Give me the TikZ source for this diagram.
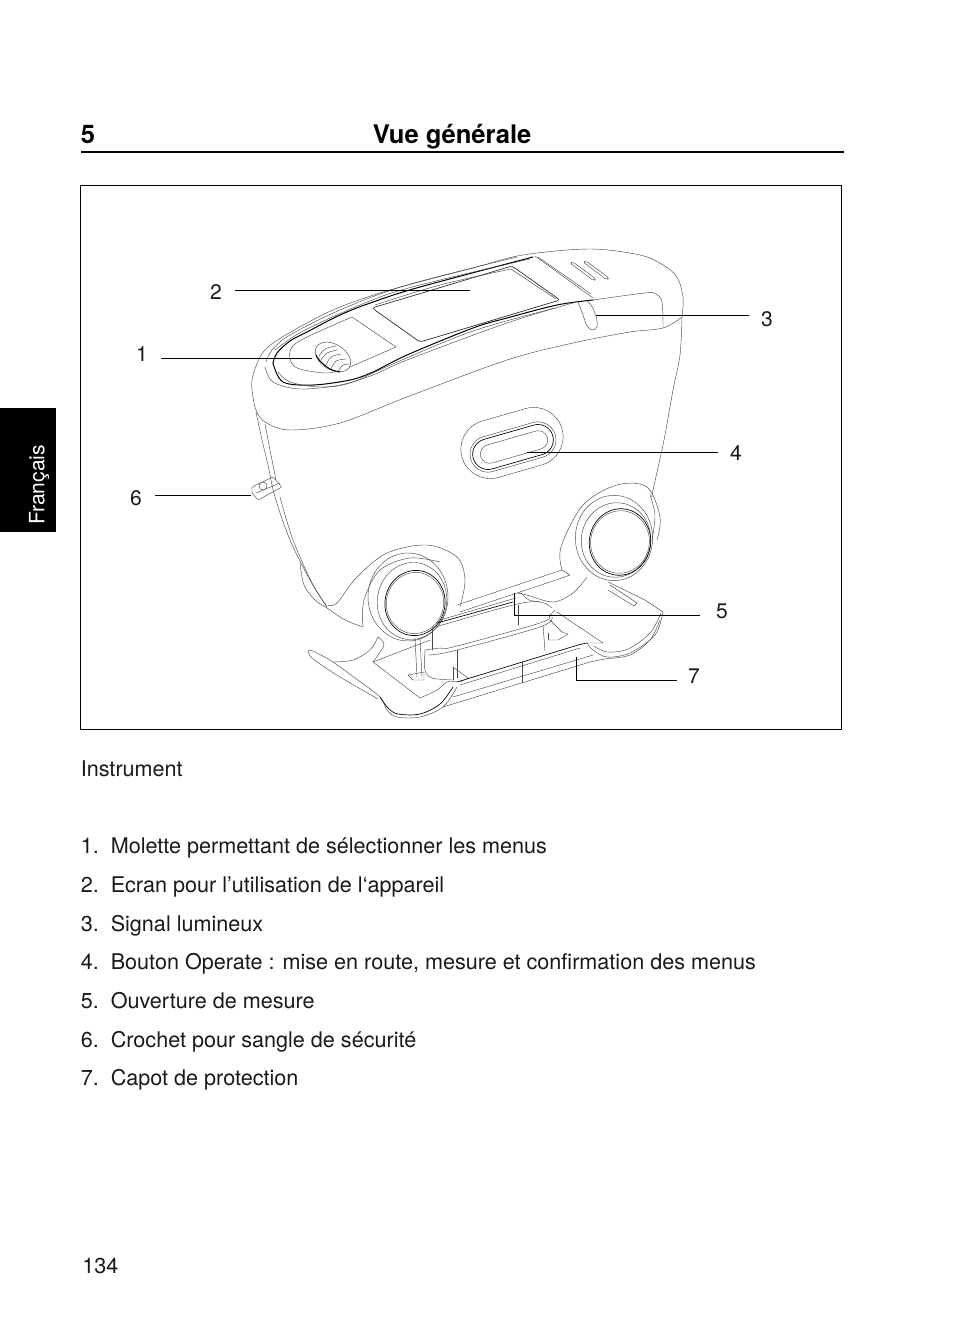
\documentclass[tikz,border=0pt]{standalone}
\usepackage{fontspec}
\setmainfont{TeX Gyre Heros}
\usetikzlibrary{shapes.misc,shapes.geometric}
\tikzset{
 ln/.style={line width=.33pt,draw=black!72,line cap=round,line join=round},
 hv/.style={line width=.75pt,draw=black,line cap=round,line join=round},
 lead/.style={line width=.7pt,draw=black},
 body/.style={font=\fontsize{16.2pt}{18pt}\selectfont,anchor=base west,inner sep=0pt,text=black!90},
 call/.style={font=\fontsize{15.8pt}{18pt}\selectfont,inner sep=0pt,text=black!90},
 pill/.style={rounded rectangle,draw,inner sep=0pt,rotate=16},
}
\newcommand\cv[2][ln]{\draw[#1] plot[smooth,tension=.55] coordinates {#2};}
\begin{document}
\begin{tikzpicture}[x=.75pt,y=-.75pt]
\useasboundingbox (0,0) rectangle (954,1337);
% page furniture
\fill[black] (0,408) rectangle (56,532);
\node[inner sep=0pt,rotate=90,text=white,font=\fontsize{15.8pt}{16pt}\selectfont] (tab) at (39,485) {Français};
\node[anchor=base west,inner sep=0pt,font=\bfseries\fontsize{19.2pt}{22pt}\selectfont] (hnum) at (80.5,144) {5};
\node[anchor=base west,inner sep=0pt,font=\bfseries\fontsize{19.2pt}{22pt}\selectfont] (htitle) at (372.5,144) {Vue générale};
\draw[line width=1.4pt] (81,152) -- (844,152);
\draw[line width=.7pt] (80.5,185.5) rectangle (841,729);
% top cap outline
\cv{(253,397)(252,380)(260,357)(273,343)(307,323)(340,307)(390,290)(473,268)(523,255)(590,249)(640,255)(663,265)(677,277)(683,297)(682,317)}
\cv{(253,397)(256,410)(265,422)(290,430)(340,423)(407,397)(507,360)(573,343)(630,332)(663,328)(682,317)}
% body sides
\cv{(682,317)(680,355)(673,390)(664,440)(653,490)(652,497)}
\cv{(256,412)(262,440)(268,465)(275,497)(290,540)(310,580)(327,607)}
\cv{(265,424)(270,450)(276,480)}
\cv{(280,497)(293,540)(312,583)(327,607)}
\cv{(300,563)(304,585)(315,600)(327,608)(345,620)(363,627)}
% recess
\cv[hv]{(273,363)(277,353)(290,341)(307,332)(340,315)(373,302)(420,287)(533,257)}
\cv[hv]{(273,363)(283,382)(313,385)(350,380)(373,372)(407,355)(473,328)(507,318)(557,305)(593,300)}
\cv{(593,300)(645,293)(656,294)(662,302)(663,328)}
\cv{(265,367)(273,382)(300,389)(340,385)(373,375)(407,360)(507,323)(573,303)}
\cv{(266,362)(272,350)(290,335)(340,310)(407,285)(517,257)}
\cv{(275,350)(307,329)(380,297)(440,280)(530,259)}
\cv{(278,372)(290,382)(320,387)(350,383)(395,363)(473,331)(555,308)}
% screen
\draw[ln,line width=.5pt,draw=black!85,rounded corners=2pt] (372,308) -- (420,342) -- (560,300) -- (512,266) -- cycle;
\cv{(375,305)(440,285)(511,269)}
\cv{(511,269)(556,299)}
% panel
\cv{(352,317)(307,337)(292,347)(290,358)(297,368)(327,373)(350,367)}
\draw[ln] (352,317) -- (396,347) -- (350,367);
% wheel
\node[ellipse,draw,ln,fill=white,minimum width=29pt,minimum height=19pt,inner sep=0pt,rotate=-32] (wheel) at (333,357) {};
\cv{(319,356)(325,349)(336,346)}
\cv{(321,360)(327,353)(337,350)}
\cv{(326,365)(331,357)(341,354)}
\cv{(331,369)(336,361)(346,359)}
\cv{(338,372)(343,365)(351,364)}
\cv[hv]{(316,355)(320,361)(330,369)(340,372)}
% right strip
\cv{(535,256)(593,298)}
\cv{(538,257)(591,294)}
\draw[ln,rounded corners=1.5pt] (570,263) -- (573,262) -- (596,279) -- (594,281) -- cycle;
\draw[ln,rounded corners=1.5pt] (583,262) -- (586,261) -- (609,278) -- (607,280) -- cycle;
% signal
\cv{(578,302)(583,315)(587,326)(592,330)(597,327)(596,316)(591,305)(587,301)}
% operate button
\node[pill,ln,minimum width=78pt,minimum height=44pt] (bouter) at (512,443) {};
\node[pill,ln,minimum width=66pt,minimum height=27pt] (b1) at (513,447) {};
\node[pill,hv,line width=.5pt,minimum width=62pt,minimum height=23pt] (b2) at (513,447) {};
\node[pill,ln,minimum width=52pt,minimum height=14pt] (b3) at (514,447) {};
% hook
\draw[ln,rounded corners=.8pt] (252,487) -- (273,477) -- (282,487) -- (258,500) -- (252,493) -- cycle;
\draw[ln] (256,493) -- (280,483);
\node[circle,draw,ln,minimum size=6pt,inner sep=0pt] (hk) at (263,486) {};
% right wheel
\cv{(562,570)(561,547)(583,505)(617,485)(647,487)(660,517)(657,540)}
\cv{(650,495)(655,515)(652,540)}
\node[ellipse,draw,ln,minimum width=58pt,minimum height=64pt,inner sep=0pt] (rr1) at (614,538) {};
\node[ellipse,draw,ln,minimum width=52pt,minimum height=56pt,inner sep=0pt,rotate=-10] (rr2) at (616,540) {};
\node[ellipse,draw,hv,line width=.5pt,minimum width=46pt,minimum height=50pt,inner sep=0pt,rotate=-10] (rr3) at (620,542) {};
\node[ellipse,draw,ln,minimum width=44pt,minimum height=47pt,inner sep=0pt,rotate=-10] (rr4) at (620,542) {};
% left wheel
\cv{(328,605)(337,603)(357,577)(387,553)(427,545)(457,557)(465,580)(460,607)}
\cv{(363,627)(364,600)(380,570)(410,558)(440,562)}
\node[ellipse,draw,ln,minimum width=60pt,minimum height=66pt,inner sep=0pt] (lr1) at (408,597) {};
\node[ellipse,draw,ln,minimum width=52pt,minimum height=58pt,inner sep=0pt,rotate=-10] (lr2) at (412,601) {};
\node[ellipse,draw,hv,line width=.5pt,minimum width=45pt,minimum height=49pt,inner sep=0pt,rotate=-10] (lr3) at (415,603) {};
\node[ellipse,draw,ln,minimum width=43pt,minimum height=46pt,inner sep=0pt,rotate=-10] (lr4) at (415,603) {};
% bridge
\draw[ln] (457,605) -- (562,570) -- (570,575) -- (562,578) -- (460,612);
\draw[hv,line width=.5pt] (437,623) -- (513,602);
\draw[ln] (440,620) -- (516,598);
\cv{(587,577)(573,593)(553,602)(527,595)(518,593)}
% cap right lobe
\draw[ln] (608,582) -- (645,600) -- (663,612);
\draw[ln] (610,585) -- (637,603) -- (634,606) -- (608,590);
\cv{(663,612)(655,635)(630,653)(607,657)(593,650)(587,643)}
\cv{(661,613)(650,633)(628,649)(607,652)(594,646)}
\draw[ln] (587,643) -- (603,643) -- (557,612);
\cv{(660,620)(650,640)(630,655)(605,659)(590,662)}
% cap front
\draw[ln] (590,662) -- (443,707);
\draw[ln] (593,655) -- (453,697);
\draw[hv,line width=.5pt] (457,682) -- (578,645) -- (587,643);
\draw[ln] (460,685) -- (580,648);
\draw[ln] (522,662) -- (522,683);
% cap left lobe
\cv{(308,650)(315,652)(333,662)(355,678)(380,697)(387,710)(397,717)(420,717)(443,707)(457,687)}
\cv[hv,line width=.5pt]{(380,697)(388,708)(398,714)(420,714)(440,704)(453,687)}
\cv{(308,650)(310,656)(320,664)(340,677)(378,699)}
\cv{(333,662)(353,660)(370,650)(378,637)}
% inner floor
\cv{(378,637)(384,645)(373,662)}
\draw[ln] (373,662) -- (420,698);
\cv{(420,698)(437,690)(447,682)(457,682)}
\draw[ln] (373,662) -- (430,640);
% tray
\cv{(425,650)(425,670)(432,678)(453,680)}
\cv{(425,650)(440,648)(453,647)(540,623)(550,615)(555,610)}
\cv{(428,655)(453,651)(540,627)(552,617)}
\cv{(432,628)(513,605)(540,602)(552,608)}
\draw[ln] (432,628) -- (432,650);
\draw[ln] (457,650) -- (457,678);
\draw[ln] (518,605) -- (518,625);
\draw[ln] (543,625) -- (545,651);
\draw[ln] (550,620) -- (562,632) -- (568,634) -- (558,640) -- (548,640);
\draw[ln] (548,640) -- (548,633);
\draw[ln] (453,667) -- (468,678) -- (460,682);
\draw[ln] (453,667) -- (453,680);
\draw[ln] (415,638) -- (417,677);
\draw[ln] (420,638) -- (422,677);
\draw[ln] (408,675) -- (424,672) -- (424,680) -- (413,680) -- cycle;
\cv{(518,593)(522,594)(529,600)(540,602)}
% callouts
\node[call] (n1) at (142,354) {1};
\node[call] (n2) at (216,292) {2};
\node[call] (n3) at (767,319) {3};
\node[call] (n4) at (736,453) {4};
\node[call] (n5) at (722,611) {5};
\node[call] (n6) at (136,498) {6};
\node[call] (n7) at (694,676) {7};
\coordinate (t1) at (312,358); \coordinate (s1) at (161,358);
\coordinate (t2) at (470,290); \coordinate (s2) at (235,290);
\coordinate (t3) at (596,315); \coordinate (s3) at (749,315);
\coordinate (t4) at (527,452); \coordinate (s4) at (718,452);
\coordinate (t5) at (514,593); \coordinate (s5) at (700,615);
\coordinate (t6) at (251,495); \coordinate (s6) at (155,495);
\coordinate (t7) at (576,657); \coordinate (s7) at (677,680);
\draw[lead] (s1) -- (t1);
\draw[lead] (s2) -- (t2);
\draw[lead] (s3) -- (t3);
\draw[lead] (s4) -- (t4);
\draw[lead] (s5) -| (t5);
\draw[lead] (s6) -- (t6);
\draw[lead] (s7) -| (t7);
% text
\node[body] (inst) at (80.5,776) {Instrument};
\node[body] (a1) at (80.5,853) {1.};  \node[body] (b1t) at (110.5,853) {Molette permettant de sélectionner les menus};
\node[body] (a2) at (80.5,892) {2.};  \node[body] (b2t) at (110.5,892) {Ecran pour l’utilisation de l‘appareil};
\node[body] (a3) at (80.5,931) {3.};  \node[body] (b3t) at (110.5,931) {Signal lumineux};
\node[body] (a4) at (80.5,969) {4.};  \node[body] (b4t) at (110.5,969) {Bouton Operate : mise en route, mesure et confirmation des menus};
\node[body] (a5) at (80.5,1008) {5.}; \node[body] (b5t) at (110.5,1008) {Ouverture de mesure};
\node[body] (a6) at (80.5,1047) {6.}; \node[body] (b6t) at (110.5,1047) {Crochet pour sangle de sécurité};
\node[body] (a7) at (80.5,1085) {7.}; \node[body] (b7t) at (110.5,1085) {Capot de protection};
\node[body] (pg) at (82,1273) {134};
\end{tikzpicture}
\end{document}
